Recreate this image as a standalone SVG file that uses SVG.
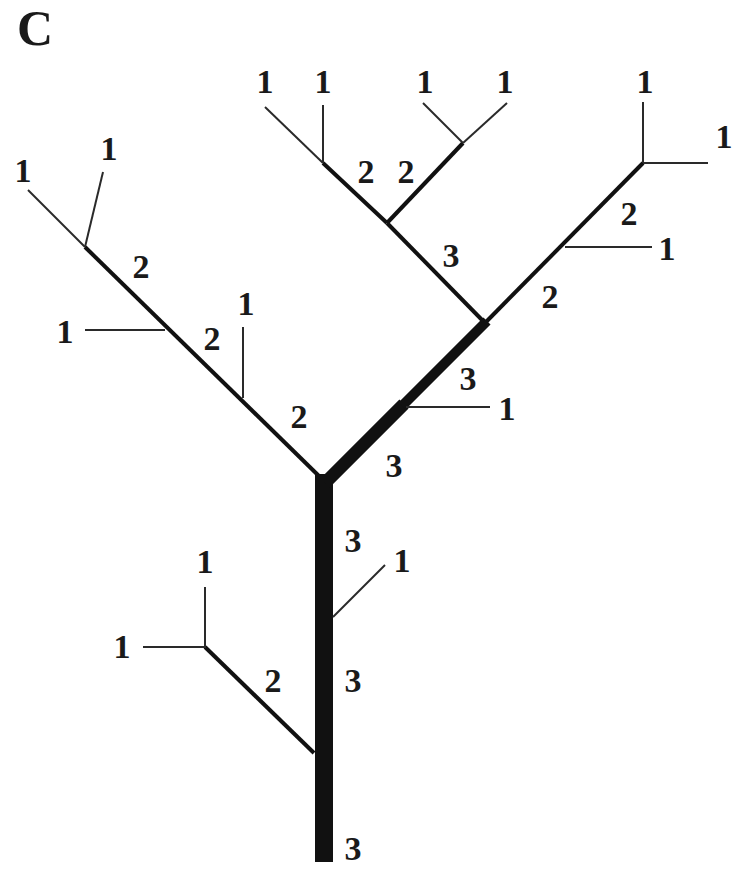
<svg xmlns="http://www.w3.org/2000/svg" width="736" height="870" viewBox="0 0 736 870">
<style>
.t{font-family:"Liberation Serif","Times New Roman",serif;font-weight:bold;font-size:34px;fill:#1a1a1a;text-anchor:middle}
.title{font-family:"Liberation Serif","Times New Roman",serif;font-weight:bold;font-size:50px;fill:#1a1a1a}
.l1{stroke:#2a2a2a;stroke-width:2;fill:none;stroke-linecap:butt}
.l2{stroke:#111;stroke-width:4;fill:none;stroke-linecap:butt}
.l3{stroke:#111;fill:none;stroke-linecap:butt}
</style>
<rect width="736" height="870" fill="#fff"/>
<text class="title" x="17" y="45">C</text>
<g id="connectors">
  <!-- trunk -->
  <line class="l3" x1="324" y1="474" x2="324" y2="862" stroke-width="18"/>
  <!-- right thick branch -->
  <line class="l3" x1="325" y1="483" x2="404" y2="404" stroke-width="13"/>
  <line class="l3" x1="402" y1="406" x2="487" y2="321" stroke-width="10"/>
  <!-- left main branch -->
  <line class="l2" x1="85" y1="247" x2="321" y2="478"/>
  <!-- upper-left subtree from (485,323) -->
  <line class="l2" x1="486" y1="324" x2="387" y2="223"/>
  <line class="l2" x1="387" y1="223" x2="323" y2="163"/>
  <line class="l2" x1="387" y1="223" x2="463" y2="143"/>
  <line class="l1" x1="323" y1="163" x2="323" y2="105"/>
  <line class="l1" x1="323" y1="163" x2="265" y2="107"/>
  <line class="l1" x1="463" y1="143" x2="423" y2="103"/>
  <line class="l1" x1="463" y1="143" x2="507" y2="103"/>
  <!-- right subtree -->
  <line class="l2" x1="485" y1="323" x2="643" y2="163"/>
  <line class="l1" x1="565" y1="247" x2="652" y2="247"/>
  <line class="l1" x1="643" y1="163" x2="643" y2="102"/>
  <line class="l1" x1="643" y1="163" x2="708" y2="163"/>
  <line class="l1" x1="406" y1="407" x2="490" y2="407"/>
  <!-- left subtree -->
  <line class="l1" x1="85" y1="247" x2="28" y2="190"/>
  <line class="l1" x1="85" y1="247" x2="103" y2="172" stroke-width="2.5"/>
  <line class="l1" x1="165" y1="330" x2="85" y2="330"/>
  <line class="l1" x1="243" y1="398" x2="243" y2="327"/>
  <!-- trunk side branches -->
  <line class="l1" x1="333" y1="617" x2="385" y2="565"/>
  <line class="l2" x1="314" y1="753" x2="205" y2="647"/>
  <line class="l1" x1="205" y1="648" x2="205" y2="587"/>
  <line class="l1" x1="206" y1="647" x2="143" y2="647"/>
</g>
<g id="labels">
  <text class="t" x="265" y="93">1</text>
  <text class="t" x="323" y="93">1</text>
  <text class="t" x="425" y="93">1</text>
  <text class="t" x="505" y="93">1</text>
  <text class="t" x="645" y="93">1</text>
  <text class="t" x="724" y="148">1</text>
  <text class="t" x="366" y="183">2</text>
  <text class="t" x="406" y="183">2</text>
  <text class="t" x="451" y="267">3</text>
  <text class="t" x="629" y="225">2</text>
  <text class="t" x="667" y="260">1</text>
  <text class="t" x="550" y="308">2</text>
  <text class="t" x="468" y="390">3</text>
  <text class="t" x="507" y="420">1</text>
  <text class="t" x="394" y="477">3</text>
  <text class="t" x="23" y="182">1</text>
  <text class="t" x="109" y="160">1</text>
  <text class="t" x="141" y="278">2</text>
  <text class="t" x="65" y="343">1</text>
  <text class="t" x="212" y="350">2</text>
  <text class="t" x="246" y="315">1</text>
  <text class="t" x="299" y="428">2</text>
  <text class="t" x="353" y="552">3</text>
  <text class="t" x="402" y="572">1</text>
  <text class="t" x="205" y="573">1</text>
  <text class="t" x="122" y="658">1</text>
  <text class="t" x="273" y="692">2</text>
  <text class="t" x="353" y="692">3</text>
  <text class="t" x="353" y="860">3</text>
</g>
</svg>
